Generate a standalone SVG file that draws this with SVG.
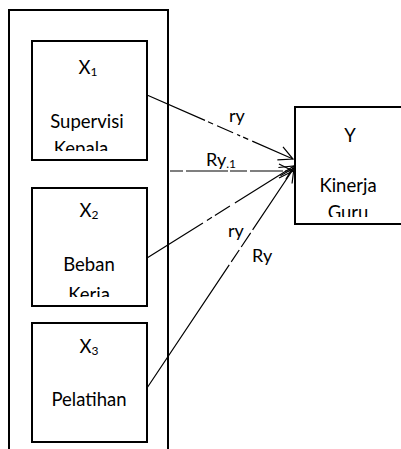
<svg xmlns="http://www.w3.org/2000/svg" width="401" height="449" viewBox="0 0 401 449">
<style>
.box{fill:#fff;stroke:#000;stroke-width:2}
.frame{fill:none;stroke:#000;stroke-width:2}
.t{font-family:Lato,"Liberation Sans",sans-serif;font-size:18.5px;fill:#000;text-anchor:middle}
.lbl{font-family:Lato,"Liberation Sans",sans-serif;font-size:18px;fill:#000}
.sub{font-size:12px}
.ln{fill:none;stroke:#000;stroke-width:1.2}
</style>
<defs>
<marker id="arr" markerUnits="userSpaceOnUse" markerWidth="20" markerHeight="20" viewBox="-15 -10 17 20" refX="0" refY="0" orient="auto">
<path d="M-14,-7 L0,0 L-14,7" fill="none" stroke="#000" stroke-width="1.2"/>
</marker>
<clipPath id="c1"><rect x="30" y="40" width="120" height="111"/></clipPath>
<clipPath id="c2"><rect x="30" y="186" width="120" height="111"/></clipPath>
<clipPath id="cy"><rect x="294" y="105" width="110" height="112"/></clipPath>
<clipPath id="cr"><rect x="200" y="228" width="60" height="30"/></clipPath>
</defs>
<g id="frame"><rect class="frame" x="9" y="10" width="159" height="460"/></g>
<g id="node-x1">
<rect class="box" x="32" y="41" width="115" height="119"/>
<g clip-path="url(#c1)">
<text class="t" x="88" y="74">X<tspan class="sub" dy="2">1</tspan></text>
<text class="t" x="87" y="128">Supervisi</text>
<text class="t" x="81" y="155">Kepala</text>
</g>
</g>
<g id="node-x2">
<rect class="box" x="32" y="188" width="115" height="118"/>
<g clip-path="url(#c2)">
<text class="t" x="89" y="217">X<tspan class="sub" dy="2">2</tspan></text>
<text class="t" x="89" y="271">Beban</text>
<text class="t" x="89" y="301">Kerja</text>
</g>
</g>
<g id="node-x3">
<rect class="box" x="32" y="323" width="115" height="119"/>
<text class="t" x="89" y="353">X<tspan class="sub" dy="2">3</tspan></text>
<text class="t" x="89" y="406">Pelatihan</text>
</g>
<g id="node-y">
<rect class="box" x="295" y="107" width="120" height="117"/>
<g clip-path="url(#cy)">
<text class="t" x="350" y="142">Y</text>
<text class="t" x="348" y="192">Kinerja</text>
<text class="t" x="348" y="219">Guru</text>
</g>
</g>
<g id="connectors">
<line class="ln" x1="147" y1="95" x2="293" y2="159" stroke-dasharray="63.3 3.3 5.5 4.4 17.5 4.4 3.3 3.3 5.5 4.4 1000" marker-end="url(#arr)"/>
<line class="ln" x1="170" y1="171" x2="293" y2="171" stroke="#444" stroke-dasharray="13 3 42 2 17 3 33 2 100" marker-end="url(#arr)"/>
<line class="ln" x1="147" y1="258" x2="294" y2="166" stroke-dasharray="66 4.7 5.9 3.5 17.7 5.9 1000" marker-end="url(#arr)"/>
<line class="ln" x1="147" y1="388" x2="294" y2="168" stroke-dasharray="148 3.6 14.4 3.6 17 3.5 1000" marker-end="url(#arr)"/>
</g>
<g id="labels">
<text class="lbl" x="229" y="122">ry</text>
<text class="lbl" x="206" y="166" font-size="15">Ry<tspan class="sub" dy="2">.1</tspan></text>
<text class="lbl" x="228" y="237" clip-path="url(#cr)">ry</text>
<text class="lbl" x="252" y="262">Ry</text>
</g>
</svg>
